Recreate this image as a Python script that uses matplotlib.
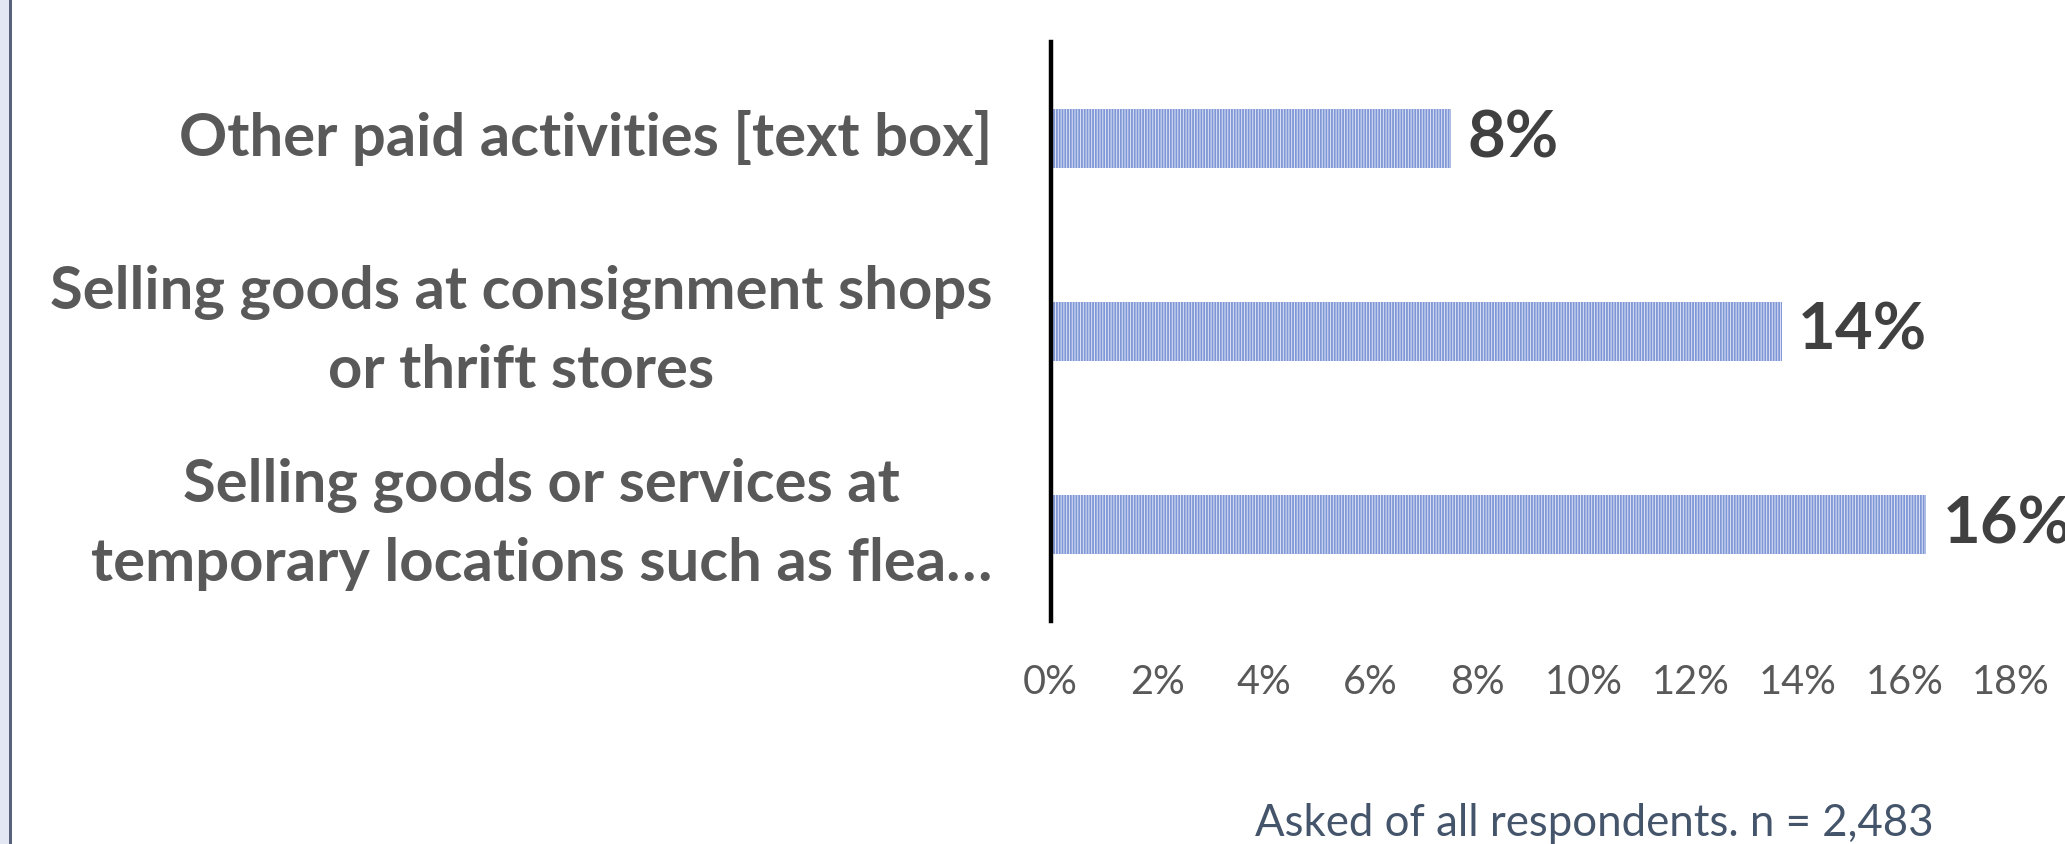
import matplotlib
matplotlib.use("Agg")
import matplotlib.pyplot as plt
from matplotlib.patches import Rectangle

# Share of respondents (%) for each paid activity, top to bottom
categories = [
    "Other paid activities [text box]",
    "Selling goods at consignment shops\nor thrift stores",
    "Selling goods or services at\ntemporary locations such as flea\u2026",
]
values = [7.5, 13.7, 16.4]
ticks = [0, 2, 4, 6, 8, 10, 12, 14, 16, 18]
tick_labels = [f"{t}%" for t in ticks]
footnote = "Asked of all respondents. n = 2,483"

plt.rcParams["hatch.linewidth"] = 1.3

W, H, DPI = 2065, 844, 100
fig = plt.figure(figsize=(W / DPI, H / DPI), dpi=DPI, facecolor="white")

# Slide-like frame on the left edge
fig.add_artist(Rectangle((0, 0), 9 / W, 1, transform=fig.transFigure,
                         facecolor="#e3e7f3", edgecolor="none"))
fig.add_artist(Rectangle((9 / W, 0), 2.5 / W, 1, transform=fig.transFigure,
                         facecolor="#55627a", edgecolor="none"))

ax = fig.add_axes([1050.5 / W, 1 - 621 / H, (2011 - 1050.5) / W, (621 - 42) / H])

ypos = list(range(len(categories)))
ax.barh(ypos, values, height=0.31, color="#dfe5f6", edgecolor="#7f97d6",
        hatch="||||||", linewidth=0)

ax.set_xlim(0, 18)
ax.set_ylim(len(categories) - 0.5, -0.5)

ax.set_yticks(ypos)
ax.set_yticklabels(categories, fontsize=43, fontweight="bold", color="#595959",
                   family="Lato", multialignment="center", linespacing=1.53,
                   va="center")
ax.set_xticks(ticks)
ax.set_xticklabels(tick_labels, fontsize=28.5, color="#595959", family="Lato")
ax.tick_params(axis="x", length=0, pad=31)
ax.tick_params(axis="y", length=0, pad=42)

for side in ("top", "right", "bottom"):
    ax.spines[side].set_visible(False)
ax.spines["left"].set_color("black")
ax.spines["left"].set_linewidth(3.2)

for y, v in zip(ypos, values):
    ax.annotate(f"{v:.0f}%", xy=(v, y), xytext=(12, 0), textcoords="offset points",
                ha="left", va="center", fontsize=47, fontweight="bold",
                color="#404040", family="Lato", annotation_clip=False)

fig.text(1594 / W, 1 - 823 / H, footnote, ha="center", va="center",
         fontsize=31.5, color="#44546a", family="Lato")

fig.savefig("out.png", dpi=DPI, facecolor="white")
